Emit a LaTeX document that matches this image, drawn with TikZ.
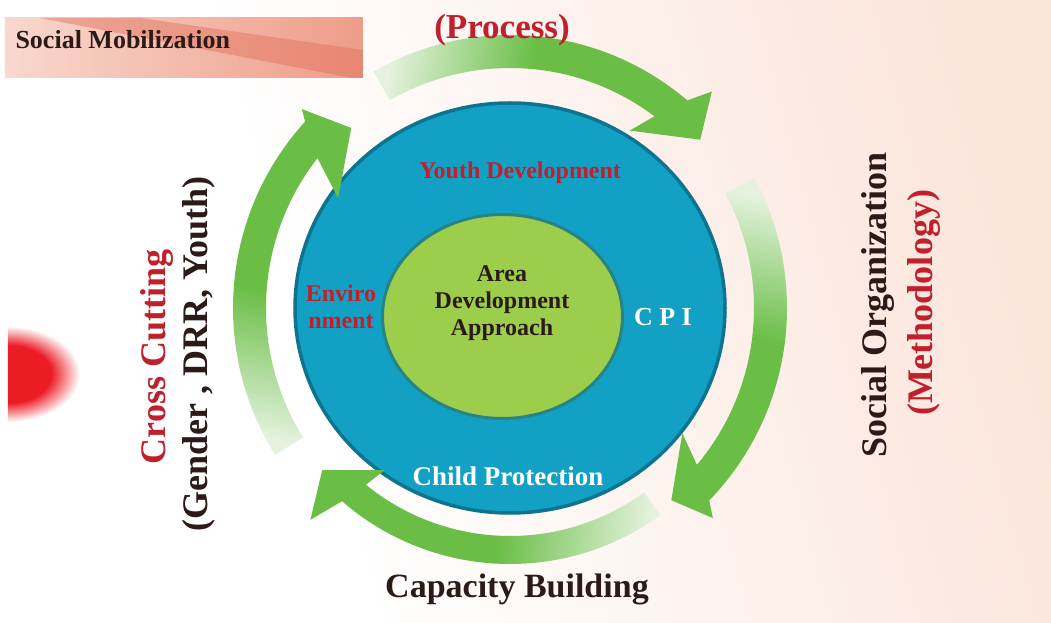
\documentclass[tikz,border=0pt]{standalone}
\usepackage{fontspec}
\setmainfont{Liberation Serif}
\definecolor{ringblue}{RGB}{18,160,196}
\definecolor{ringedge}{RGB}{12,116,142}
\definecolor{coregreen}{RGB}{156,206,76}
\definecolor{coreedge}{RGB}{40,132,130}
\definecolor{arrowgreen}{RGB}{106,190,70}
\definecolor{palegreen}{RGB}{228,242,222}
\definecolor{peach}{RGB}{251,229,219}
\definecolor{titlered}{RGB}{192,32,44}
\definecolor{darktext}{RGB}{44,26,24}
\definecolor{boxpink}{RGB}{248,216,206}
\definecolor{boxsalmon}{RGB}{238,156,136}
\definecolor{streakred}{RGB}{226,110,88}
\definecolor{blobred}{RGB}{236,28,36}
\pgfdeclarehorizontalshading{arrowfade}{100bp}{color(0bp)=(palegreen); color(25bp)=(palegreen); color(48bp)=(arrowgreen); color(100bp)=(arrowgreen)}
\pgfdeclarehorizontalshading{pagefade}{100bp}{color(0bp)=(white); color(38bp)=(white); color(75bp)=(peach); color(100bp)=(peach)}
\pgfdeclareradialshading{blobfade}{\pgfpoint{0bp}{0bp}}{color(0bp)=(blobred); color(15bp)=(blobred); color(25bp)=(white); color(50bp)=(white)}
\begin{document}
\begin{tikzpicture}[x=1pt, y=1pt,
    redtxt/.style={text=titlered},
    darktxt/.style={text=darktext},
    sidetxt/.style={rotate=90, font=\bfseries\fontsize{36}{40}\selectfont},
    circtxt/.style={font=\bfseries\fontsize{24}{27}\selectfont, align=center}]
  \useasboundingbox (-510,-315) rectangle (541,308);
  \shade[shading=pagefade, shading angle=15] (-510,-315) rectangle (541,308);

  % red blob on the left edge
  \begin{scope}
    \clip (-502,-140) rectangle (-400,10);
    \shade[shading=blobfade] (-502,-66) ellipse (72 and 48);
  \end{scope}

  % title box
  \shade[left color=boxpink, right color=boxsalmon] (-505,230) rectangle (-147,290);
  \fill[streakred, opacity=0.45] (-470,290) -- (-370,290) -- (-147,258) -- (-147,230) -- (-158,230) -- cycle;
  \node[darktxt, anchor=west, font=\bfseries\fontsize{26}{30}\selectfont] (mobil) at (-498,268) {Social Mobilization};

  % rings
  \draw[line width=3.5, draw=ringedge, fill=ringblue] (0,0) ellipse (215 and 205);
  \draw[line width=3, draw=coreedge, fill=coregreen] (-7.5,-8.5) ellipse (120 and 102);

  % cycle arrows
  \shade[shading=arrowfade, shading angle=-10] (120:273) arc[start angle=120, end angle=49.5, radius=273]
    -- (47:296) -- (41.5:254) -- (56:214) -- (53:240) arc[start angle=53, end angle=120, radius=240] -- cycle;
  \shade[shading=arrowfade, shading angle=-102] (28:277) arc[start angle=28, end angle=-44, radius=277]
    -- (-46:292) -- (-50:251) -- (-36:213) -- (-40:244) arc[start angle=-40, end angle=28, radius=244] -- cycle;
  \shade[shading=arrowfade, shading angle=174] (-54:256) arc[start angle=-54, end angle=-131, radius=256]
    -- (-133.3:291) -- (-139.2:248) -- (-127.7:205) -- (-129.2:228) arc[start angle=-129.2, end angle=-54, radius=228] -- cycle;
  \shade[shading=arrowfade, shading angle=78.5] (212:277) arc[start angle=212, end angle=137.7, radius=277]
    -- (136.3:288) -- (131.4:240) -- (147.4:204) -- (142.1:244) arc[start angle=142.1, end angle=212, radius=244] -- cycle;

  % labels
  \node[redtxt, font=\bfseries\fontsize{35}{40}\selectfont] (process) at (-8,278) {(Process)};
  \node[redtxt, anchor=base, font=\bfseries\fontsize{24}{27}\selectfont] (youth) at (10,129) {Youth Development};
  \node[redtxt, circtxt] (envir) at (-169,1) {Enviro\\nment};
  \node[text=white, anchor=base, font=\bfseries\fontsize{26}{30}\selectfont] (cpi) at (153,-18) {C P I};
  \node[darktxt, circtxt, font=\bfseries\fontsize{24}{27}\selectfont] (area) at (-8,5) {Area\\Development\\Approach};
  \node[text=white, anchor=base, font=\bfseries\fontsize{27}{30}\selectfont] (child) at (-2,-177) {Child Protection};
  \node[darktxt, anchor=base, font=\bfseries\fontsize{34}{38}\selectfont] (capacity) at (7,-289) {Capacity Building};
  \node[redtxt, sidetxt] (cross) at (-353.5,-49) {Cross Cutting};
  \node[darktxt, sidetxt] (gender) at (-311.5,-46) {(Gender , DRR, Youth)};
  \node[darktxt, sidetxt] (socorg) at (368,3) {Social Organization};
  \node[redtxt, sidetxt] (method) at (414,5) {(Methodology)};
\end{tikzpicture}
\end{document}
